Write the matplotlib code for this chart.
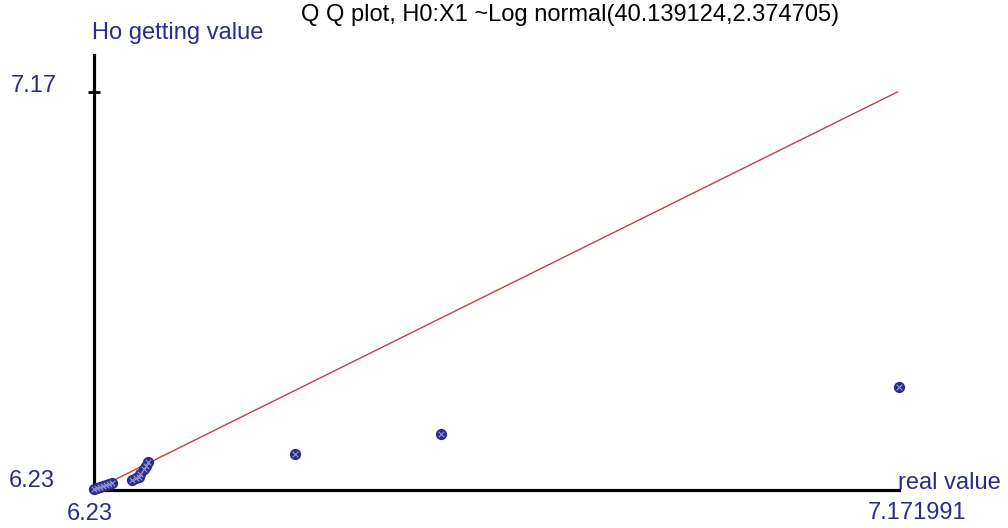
import matplotlib
matplotlib.use("Agg")
import matplotlib.pyplot as plt

plt.rcParams['font.family'] = ['Liberation Sans', 'DejaVu Sans']

# Q-Q points (real value, H0 expected value)
real_vals = [6.2300, 6.2335, 6.2370, 6.2405, 6.2441, 6.2476, 6.2511,
             6.2745, 6.2792, 6.2827, 6.2839, 6.2886, 6.2909, 6.2933,
             6.4655, 6.6366, 7.1720]
h0_vals = [6.2324, 6.2347, 6.2371, 6.2394, 6.2418, 6.2442, 6.2465,
           6.2536, 6.2583, 6.2607, 6.2678, 6.2796, 6.2867, 6.2961,
           6.3150, 6.3623, 6.4733]

x_min, x_max = 6.23, 7.171991
y_min, y_top_tick = 6.23, 7.17
ref_line = [6.23, 7.17]

navy = '#2b2b8c'
fs = 17

fig = plt.figure(figsize=(10.08, 5.28), dpi=100)
ax = fig.add_axes([94 / 1008, 38 / 528, 805 / 1008, 435 / 528])

ax.plot(ref_line, ref_line, color='#c83c46', lw=1.0, zorder=2)
ax.scatter(real_vals, h0_vals, s=50, color=navy, zorder=3, clip_on=False)
ax.scatter(real_vals, h0_vals, s=16, marker='x', color='#9a9ad8',
           linewidths=0.8, zorder=4, clip_on=False)

ax.set_xlim(x_min, x_max)
ax.set_ylim(y_min, 7.2574)

for s in ['top', 'right']:
    ax.spines[s].set_visible(False)
ax.spines['left'].set_linewidth(2.3)
ax.spines['bottom'].set_linewidth(2.3)

ax.set_xticks([])
ax.set_yticks([y_top_tick])
ax.set_yticklabels([''])
ax.tick_params(axis='y', direction='inout', length=9, width=2)

fig.text(11 / 1008, 1 - 86 / 528, '7.17', ha='left', va='center',
         color=navy, fontsize=fs)
fig.text(9 / 1008, 1 - 481 / 528, '6.23', ha='left', va='center',
         color=navy, fontsize=fs)
fig.text(90 / 1008, 1 - 514 / 528, '6.23', ha='center', va='center',
         color=navy, fontsize=fs)
fig.text(917 / 1008, 1 - 513 / 528, '7.171991', ha='center', va='center',
         color=navy, fontsize=fs)
fig.text(898 / 1008, 1 - 483 / 528, 'real value', ha='left', va='center',
         color=navy, fontsize=fs)
fig.text(178 / 1008, 1 - 33 / 528, 'Ho getting value', ha='center',
         va='center', color=navy, fontsize=fs)
fig.text(570 / 1008, 1 - 15 / 528,
         'Q Q plot, H0:X1 ~Log normal(40.139124,2.374705)',
         ha='center', va='center', color='black', fontsize=fs)

fig.savefig('out.png', dpi=100)
